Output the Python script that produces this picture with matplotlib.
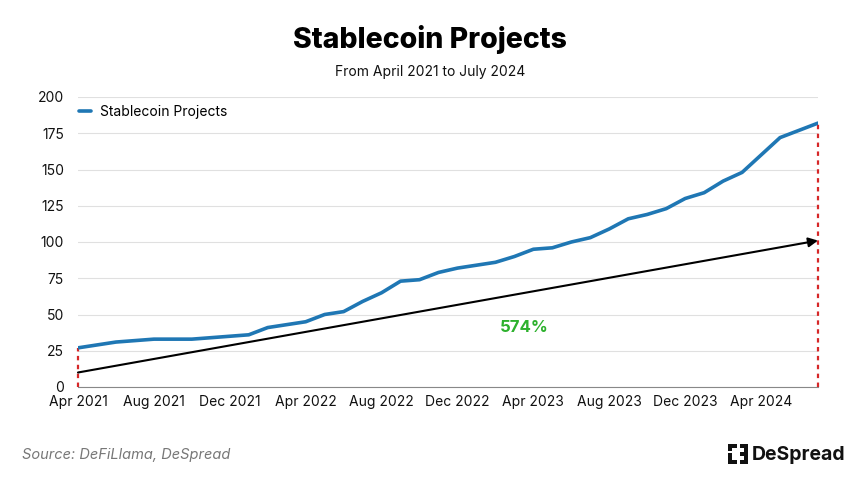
import matplotlib
matplotlib.use("Agg")
import matplotlib.pyplot as plt
from matplotlib.patches import Rectangle

plt.rcParams['font.family'] = ['Inter', 'DejaVu Sans']

months = ['Apr 2021', 'May 2021', 'Jun 2021', 'Jul 2021', 'Aug 2021', 'Sep 2021', 'Oct 2021', 'Nov 2021',
          'Dec 2021', 'Jan 2022', 'Feb 2022', 'Mar 2022', 'Apr 2022', 'May 2022', 'Jun 2022', 'Jul 2022',
          'Aug 2022', 'Sep 2022', 'Oct 2022', 'Nov 2022', 'Dec 2022', 'Jan 2023', 'Feb 2023', 'Mar 2023',
          'Apr 2023', 'May 2023', 'Jun 2023', 'Jul 2023', 'Aug 2023', 'Sep 2023', 'Oct 2023', 'Nov 2023',
          'Dec 2023', 'Jan 2024', 'Feb 2024', 'Mar 2024', 'Apr 2024', 'May 2024', 'Jun 2024', 'Jul 2024']
projects = [27, 29, 31, 32, 33, 33, 33, 34, 35, 36, 41, 43, 45, 50, 52, 59, 65, 73, 74, 79,
            82, 84, 86, 90, 95, 96, 100, 103, 109, 116, 119, 123, 130, 134, 142, 148, 160, 172, 177, 182]
trend_start = 10
trend_end = 101
tick_labels = ['Apr 2021', 'Aug 2021', 'Dec 2021', 'Apr 2022', 'Aug 2022', 'Dec 2022',
               'Apr 2023', 'Aug 2023', 'Dec 2023', 'Apr 2024']
growth_label = '574%'

fig = plt.figure(figsize=(8.6, 4.84), dpi=100)
ax = fig.add_axes([78/860, 1-387/484, 740/860, 290/484])

x = list(range(len(months)))
last = len(months) - 1

ax.set_ylim(0, 200)
ax.set_xlim(0, last)
ax.set_yticks(range(0, 201, 25))
ax.grid(axis='y', color='#e0e0e0', linewidth=0.8)
ax.set_axisbelow(True)
for s in ['top', 'right', 'left']:
    ax.spines[s].set_visible(False)
ax.spines['bottom'].set_color('#888888')
ax.spines['bottom'].set_linewidth(0.8)
ax.tick_params(axis='both', length=0, labelsize=10, colors='#111111')
ax.tick_params(axis='x', pad=6)
ax.tick_params(axis='y', pad=10)

tick_pos = [months.index(t) for t in tick_labels]
ax.set_xticks(tick_pos)
ax.set_xticklabels(tick_labels)

ax.plot(x, projects, color='#1f77b4', linewidth=2.6, label='Stablecoin Projects', zorder=4, solid_capstyle='round')

# red dotted verticals
ax.plot([0, 0], [0, projects[0]], color='#d62728', linestyle=(0, (2, 2)), linewidth=1.6, zorder=3, clip_on=False)
ax.plot([last, last], [0, projects[-1]], color='#d62728', linestyle=(0, (2, 2)), linewidth=1.6, zorder=3, clip_on=False)

# trend arrow
ax.annotate('', xy=(last, trend_end), xytext=(0, trend_start),
            arrowprops=dict(arrowstyle='-|>', color='black', lw=1.5, mutation_scale=14, shrinkA=0, shrinkB=0),
            zorder=3)

ax.text(23.5, 41, growth_label, color='#2db12d', fontsize=12, fontweight='bold', ha='center', va='center')

leg = ax.legend(loc='upper left', frameon=False, fontsize=10, handlelength=0.9,
                bbox_to_anchor=(-0.01, 1.0), borderaxespad=0.2, handletextpad=0.6)

fig.text(0.5, 1-40/484, 'Stablecoin Projects', ha='center', va='center', fontsize=20.5, fontweight='heavy', color='#000000')
fig.text(0.5, 1-72/484, 'From April 2021 to July 2024', ha='center', va='center', fontsize=10, color='#111111')
fig.text(22/860, 1-455/484, 'Source: DeFiLlama, DeSpread', ha='left', va='center', fontsize=10.5,
         style='italic', color='#777777')

# logo
fig.text(752/860, 1-455/484, 'DeSpread', ha='left', va='center', fontsize=14, fontweight='bold', color='#111111')
rects = [
    (728, 444, 9, 4), (728, 444, 4, 7),
    (728, 453, 4, 4),
    (728, 460, 9, 4), (728, 457, 4, 7),
    (740, 444, 8, 4), (744, 444, 4, 20),
    (740, 452, 8, 4),
    (740, 460, 8, 4),
]
for (rx, ry, rw, rh) in rects:
    fig.patches.append(Rectangle((rx/860, 1-(ry+rh)/484), rw/860, rh/484, transform=fig.transFigure,
                                 facecolor='#111111', edgecolor='none'))

fig.savefig('out.png', dpi=100)
